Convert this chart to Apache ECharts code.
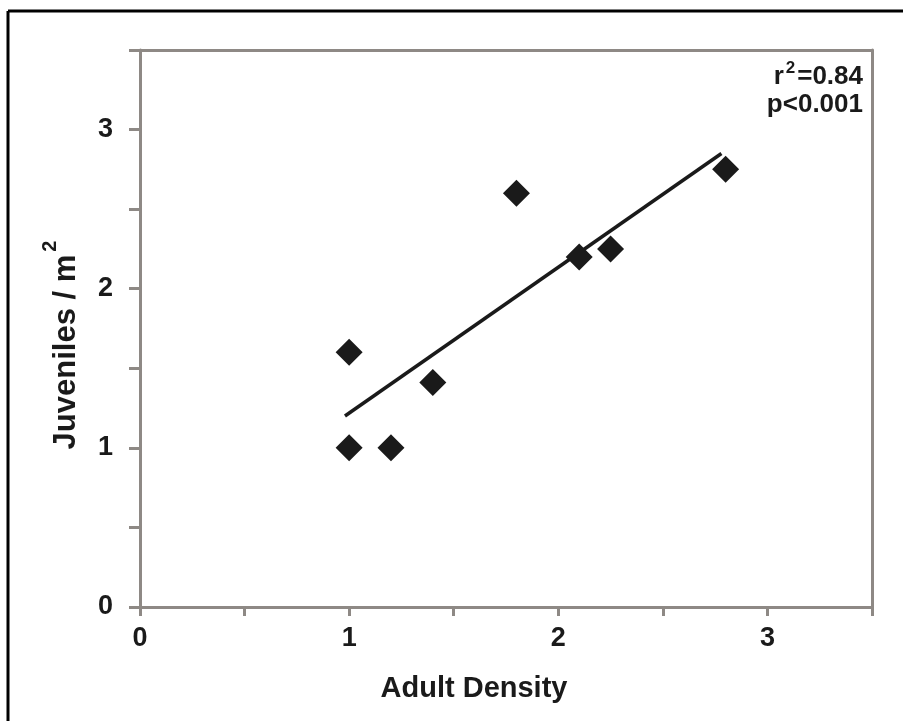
<!DOCTYPE html>
<html>
<head>
<meta charset="utf-8">
<script src="https://cdn.jsdelivr.net/npm/echarts@6/dist/echarts.min.js"></script>
<style>
html,body{margin:0;padding:0;background:#fff;}
#chart{width:903px;height:721px;}
</style>
</head>
<body>
<div id="chart"></div>
<script>
// Data
var adultDensity = [1.0, 1.0, 1.2, 1.4, 1.8, 2.1, 2.25, 2.8];
var juveniles    = [1.6, 1.0, 1.0, 1.41, 2.6, 2.2, 2.25, 2.75];
var trendX = [0.98, 2.78];
var trendY = [1.2, 2.85];
var xTicks = [0, 1, 2, 3];
var yTicks = [0, 1, 2, 3];
var statLines = ['r²=0.84', 'p<0.001'];

var axisGray = '#8e8985';
var ink = '#1a1a1a';
var fontFam = 'Liberation Sans';

function tickLabel(ticks) {
  return function (v) {
    for (var i = 0; i < ticks.length; i++) {
      if (Math.abs(ticks[i] - v) < 1e-6) return String(ticks[i]);
    }
    return '';
  };
}

var points = adultDensity.map(function (x, i) { return [x, juveniles[i]]; });
var trend = trendX.map(function (x, i) { return [x, trendY[i]]; });

var chart = echarts.init(document.getElementById('chart'), null, {renderer: 'canvas'});
chart.setOption({
  backgroundColor: '#ffffff',
  animation: false,
  grid: {left: 140, right: 31, top: 50, bottom: 114, containLabel: false},
  xAxis: [{
    type: 'value', min: 0, max: 3.5, interval: 0.5, position: 'bottom',
    axisLine: {show: true, onZero: false, lineStyle: {color: axisGray, width: 3}},
    axisTick: {show: true, inside: false, length: 9, lineStyle: {color: axisGray, width: 3}},
    axisLabel: {show: true, margin: 18, formatter: tickLabel(xTicks), color: ink,
      fontSize: 27, fontWeight: 'bold', fontFamily: fontFam, showMaxLabel: true, showMinLabel: true},
    splitLine: {show: false}
  }, {
    type: 'value', min: 0, max: 3.5, interval: 0.5, position: 'top',
    axisLine: {show: true, onZero: false, lineStyle: {color: axisGray, width: 3}},
    axisTick: {show: false}, axisLabel: {show: false}, splitLine: {show: false}
  }],
  yAxis: [{
    type: 'value', min: 0, max: 3.5, interval: 0.5, position: 'left',
    axisLine: {show: true, onZero: false, lineStyle: {color: axisGray, width: 3}},
    axisTick: {show: true, inside: false, length: 11, lineStyle: {color: axisGray, width: 3}},
    axisLabel: {show: true, margin: 27, formatter: tickLabel(yTicks), color: ink,
      fontSize: 27, fontWeight: 'bold', fontFamily: fontFam, showMaxLabel: true, showMinLabel: true},
    splitLine: {show: false}
  }, {
    type: 'value', min: 0, max: 3.5, interval: 0.5, position: 'right',
    axisLine: {show: true, onZero: false, lineStyle: {color: axisGray, width: 3}},
    axisTick: {show: false}, axisLabel: {show: false}, splitLine: {show: false}
  }],
  series: [{
    type: 'line', xAxisIndex: 0, yAxisIndex: 0, data: trend,
    showSymbol: false, symbol: 'none', lineStyle: {color: ink, width: 3.5, opacity: 1}, z: 2
  }, {
    type: 'scatter', xAxisIndex: 0, yAxisIndex: 0, data: points,
    symbol: 'diamond', symbolSize: 27, itemStyle: {color: ink, opacity: 1}, z: 3
  }],
  graphic: [
    {type: 'line', shape: {x1: 8, y1: 11, x2: 903, y2: 11}, style: {stroke: '#000', lineWidth: 3}},
    {type: 'line', shape: {x1: 8, y1: 11, x2: 8, y2: 721}, style: {stroke: '#000', lineWidth: 3}},
    {type: 'text', x: 474, y: 689, style: {text: 'Adult Density', align: 'center', verticalAlign: 'middle',
      fontSize: 29, fontWeight: 'bold', fontFamily: fontFam, fill: ink}},
    {type: 'text', x: 61, y: 345, rotation: Math.PI / 2,
      style: {text: '{a|Juveniles / m}{s|2}', align: 'center', verticalAlign: 'middle',
        rich: {
          a: {fontSize: 31, fontWeight: 'bold', fontFamily: fontFam, fill: ink, verticalAlign: 'bottom', lineHeight: 42},
          s: {fontSize: 20, fontWeight: 'bold', fontFamily: fontFam, fill: ink, verticalAlign: 'top', lineHeight: 42, padding: [0, 0, 0, 3]}
        }}},
    {type: 'text', x: 863, y: 75,
      style: {text: '{r|r}{s|2}{r|=0.84}', align: 'right', verticalAlign: 'middle',
        rich: {
          r: {fontSize: 26, fontWeight: 'bold', fontFamily: fontFam, fill: ink, verticalAlign: 'bottom', lineHeight: 30},
          s: {fontSize: 17, fontWeight: 'bold', fontFamily: fontFam, fill: ink, verticalAlign: 'top', lineHeight: 30, padding: [0, 2, 0, 2]}
        }}},
    {type: 'text', x: 863, y: 105, style: {text: statLines[1], align: 'right', verticalAlign: 'middle',
      fontSize: 26, fontWeight: 'bold', fontFamily: fontFam, fill: ink}}
  ]
});
</script>
</body>
</html>
